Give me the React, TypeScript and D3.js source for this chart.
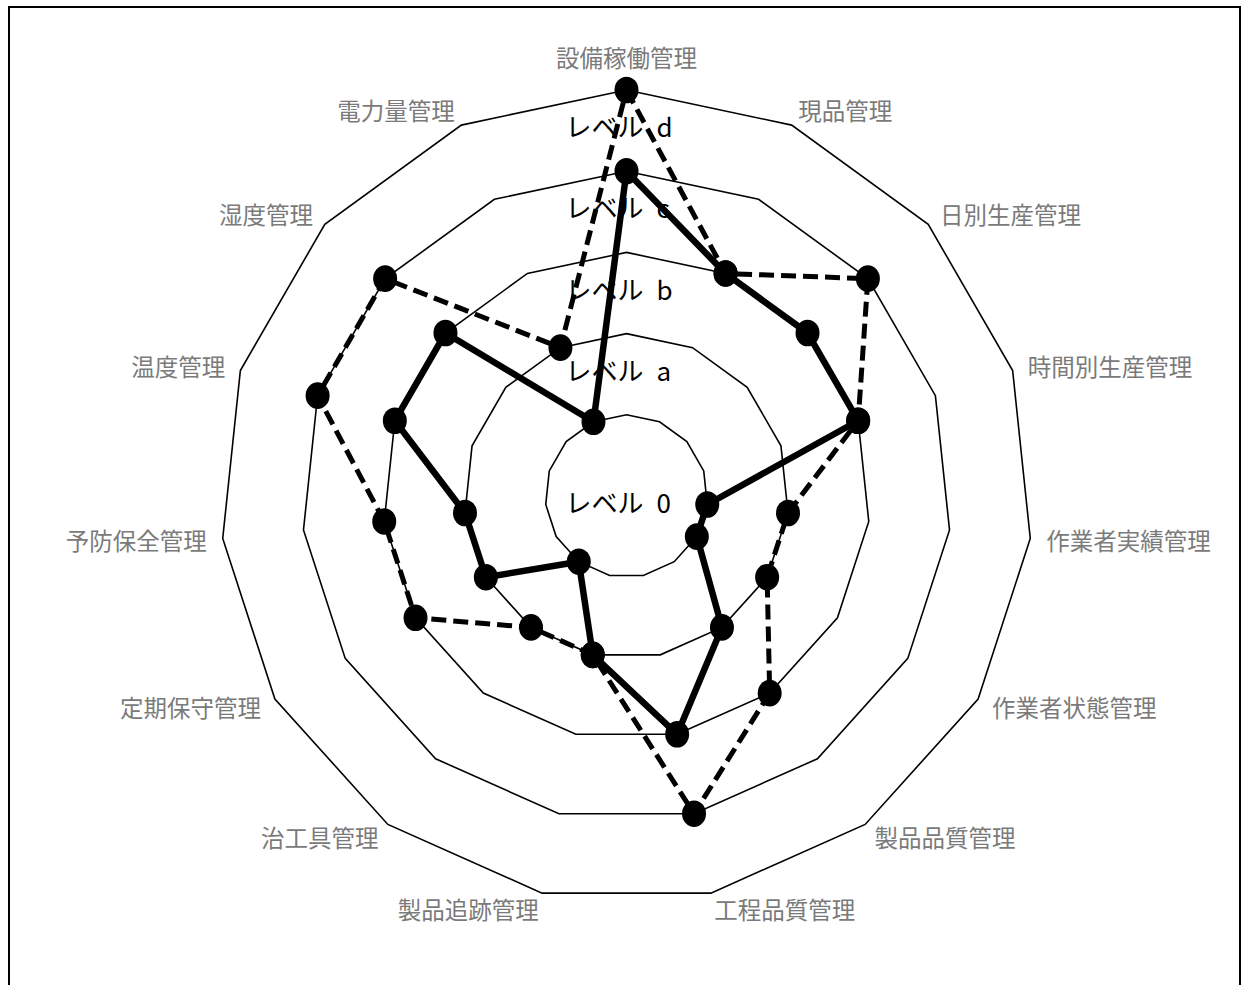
import React from "react";
import * as d3 from "d3";

const categories = [
  "設備稼働管理", "現品管理", "日別生産管理", "時間別生産管理", "作業者実績管理",
  "作業者状態管理", "製品品質管理", "工程品質管理", "製品追跡管理", "治工具管理",
  "定期保守管理", "予防保全管理", "温度管理", "湿度管理", "電力量管理",
];
const currentLevels = [4, 3, 3, 3, 1, 1, 2, 3, 2, 1, 2, 2, 3, 3, 1];
const targetLevels = [5, 3, 4, 3, 2, 2, 3, 4, 2, 2, 3, 3, 4, 4, 2];
const ringValues = [1, 2, 3, 4, 5];
const levelLabels = ["レベル\u20020", "レベル\u2002a", "レベル\u2002b", "レベル\u2002c", "レベル\u2002d"];

const W = 1241;
const H = 985;
const cx = 626.5;
const cy = 496;
const R = 406;

export default function App() {
  const r = d3.scaleLinear().domain([0, 5]).range([0, R]);
  const n = categories.length;
  const angle = d3.scaleLinear().domain([0, n]).range([0, 2 * Math.PI]);
  const pt = (i: number, v: number): [number, number] => {
    const a = angle(i);
    return [cx + r(v) * Math.sin(a), cy - r(v) * Math.cos(a)];
  };
  const closed = d3.line<[number, number]>().curve(d3.curveLinearClosed);

  const ringPath = (v: number) => closed(categories.map((_, i) => pt(i, v))) || "";
  const seriesPts = (vals: number[]) => vals.map((v, i) => pt(i, v));

  const labelR = 422;
  const catFont = "'Noto Sans CJK JP', 'Noto Sans', sans-serif";

  return (
    <svg width={W} height={H} style={{ position: "absolute", left: 0, top: 0, background: "#fff" }}>
      <rect x={0} y={0} width={W} height={H} fill="#fff" />
      <rect x={9} y={7} width={1231} height={1010} fill="none" stroke="#000" strokeWidth={2} />
      {ringValues.map((v) => (
        <path key={v} d={ringPath(v)} fill="none" stroke="#000" strokeWidth={1.6} />
      ))}
      {levelLabels.map((t, i) => (
        <text
          key={t}
          x={cx - 61}
          y={i === 0 ? cy + 5 : cy - r(i + 0.56)}
          fontSize={26}
          fontFamily={catFont}
          fill="#000"
          dominantBaseline="central"
        >
          {t}
        </text>
      ))}
      {categories.map((c, i) => {
        const a = angle(i);
        const s = Math.sin(a);
        const co = Math.cos(a);
        const x = cx + labelR * s;
        let y = cy - labelR * co;
        let anchor: "start" | "end" | "middle" = "middle";
        if (s > 0.01) anchor = "start";
        else if (s < -0.01) anchor = "end";
        else y -= co * 17;
        return (
          <text
            key={c}
            x={x}
            y={y}
            fontSize={23.5}
            fontFamily={catFont}
            fill="#7a7a7a"
            textAnchor={anchor}
            dominantBaseline="central"
          >
            {c}
          </text>
        );
      })}
      <path
        d={closed(seriesPts(targetLevels)) || ""}
        fill="none"
        stroke="#000"
        strokeWidth={5}
        strokeDasharray="15,7"
        strokeLinejoin="round"
      />
      <path
        d={closed(seriesPts(currentLevels)) || ""}
        fill="none"
        stroke="#000"
        strokeWidth={6.5}
        strokeLinejoin="round"
      />
      {seriesPts(targetLevels).map(([x, y], i) => (
        <ellipse key={"t" + i} cx={x} cy={y} rx={12} ry={13.3} fill="#000" />
      ))}
      {seriesPts(currentLevels).map(([x, y], i) => (
        <ellipse key={"c" + i} cx={x} cy={y} rx={12} ry={13.3} fill="#000" />
      ))}
    </svg>
  );
}
